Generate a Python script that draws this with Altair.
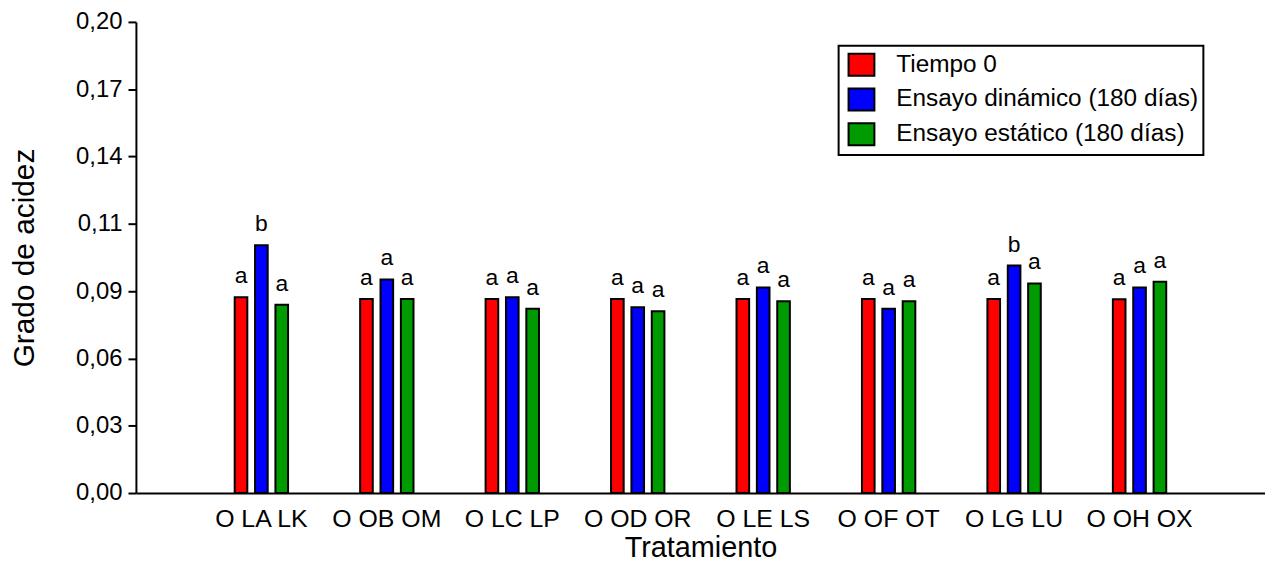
import altair as alt
import pandas as pd

# ---- data ----
groups = ["O LA LK", "O OB OM", "O LC LP", "O OD OR", "O LE LS", "O OF OT", "O LG LU", "O OH OX"]
series = ["Tiempo 0", "Ensayo dinámico (180 días)", "Ensayo estático (180 días)"]
tiempo0 = [0.0831, 0.0824, 0.0824, 0.0824, 0.0824, 0.0824, 0.0824, 0.0823]
dinamico = [0.1052, 0.0907, 0.0831, 0.0789, 0.0873, 0.0782, 0.0966, 0.0873]
estatico = [0.0799, 0.0824, 0.0782, 0.0772, 0.0814, 0.0814, 0.0890, 0.0897]
letras_t0 = ["a", "a", "a", "a", "a", "a", "a", "a"]
letras_din = ["b", "a", "a", "a", "a", "a", "b", "a"]
letras_est = ["a", "a", "a", "a", "a", "a", "a", "a"]
colores = ["#FF0000", "#0000FF", "#009B00"]
y_ticks = [0.2 * k / 7 for k in range(8)]

rows = []
for i, g in enumerate(groups):
    for s, vals, lets in zip(series, [tiempo0, dinamico, estatico],
                             [letras_t0, letras_din, letras_est]):
        rows.append({"grupo": g, "serie": s, "valor": vals[i], "letra": lets[i]})
df = pd.DataFrame(rows)

FONT = "Liberation Sans"
W, H = 1136, 474

x_enc = alt.X("grupo:N", sort=groups,
              scale=alt.Scale(domain=groups, paddingInner=0.513, paddingOuter=0.7565),
              axis=alt.Axis(title="Tratamiento", labelAngle=0, ticks=False, tickSize=0,
                            labelFontSize=25, labelPadding=13.5, labelColor="black",
                            titleFontSize=29, titleFontWeight="normal", titleColor="black",
                            titleX=W / 2, titleY=64, titleBaseline="alphabetic",
                            domainColor="black", domainWidth=2))
xo_enc = alt.XOffset("serie:N", sort=series,
                     scale=alt.Scale(domain=series, paddingInner=0.38, paddingOuter=0.19))
y_enc = alt.Y("valor:Q",
              scale=alt.Scale(domain=[0, 0.2], nice=False, zero=True),
              axis=alt.Axis(title="Grado de acidez", values=y_ticks,
                            labelExpr="replace(format(datum.value, '.2f'), '.', ',')",
                            labelFontSize=24, labelPadding=6, labelColor="black",
                            tickSize=8, tickWidth=2, tickColor="black",
                            domainColor="black", domainWidth=2, grid=False,
                            titleFontSize=30, titleFontWeight="normal", titleColor="black",
                            titleX=-97, titleY=H / 2, titleAngle=-90,
                            titleBaseline="bottom", titleAlign="center"))

color_enc = alt.Color("serie:N", sort=series,
                      scale=alt.Scale(domain=series, range=colores),
                      legend=alt.Legend(title=None, orient="none", legendX=707, legendY=24,
                                        symbolType="M-1,-0.85H1V0.85H-1Z", symbolSize=676,
                                        symbolStrokeColor="black", symbolStrokeWidth=2,
                                        symbolOpacity=1, symbolOffset=4,
                                        labelFontSize=24.5, labelOffset=21, labelColor="black",
                                        labelLimit=500,
                                        rowPadding=3, padding=5, strokeColor="black"))

bars = alt.Chart(df).mark_bar(stroke="black", strokeWidth=2, opacity=1).encode(
    x=x_enc, xOffset=xo_enc, y=y_enc, color=color_enc
)

letters = alt.Chart(df).mark_text(fontSize=23, font=FONT, color="black",
                                  baseline="alphabetic", dy=-14).encode(
    x=alt.X("grupo:N", sort=groups),
    xOffset=alt.XOffset("serie:N", sort=series),
    y=alt.Y("valor:Q"),
    text="letra:N",
)

chart = alt.layer(bars, letters).properties(
    width=W, height=H,
    autosize=alt.AutoSizeParams(type="none"),
    padding={"left": 128.7, "top": 12.3, "right": 0, "bottom": 71},
).configure(font=FONT).configure_view(stroke=None).configure_legend(strokeWidth=2)

chart.save("out.html", embed_options={"renderer": "svg", "actions": False})
